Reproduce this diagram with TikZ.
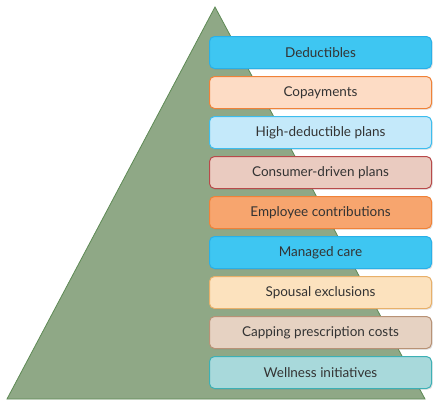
\documentclass[tikz,border=0pt]{standalone}
\usepackage{fontspec}
\setmainfont{Lato}
\usetikzlibrary{positioning,shadows}
\definecolor{pyrfill}{HTML}{8FA886}
\definecolor{pyrline}{HTML}{5E8A55}
\definecolor{cyanfill}{HTML}{3EC6F2}
\definecolor{cyanline}{HTML}{29B0E8}
\definecolor{peachfill}{HTML}{FDDCC5}
\definecolor{orangeline}{HTML}{F08238}
\definecolor{skyfill}{HTML}{C4E9FA}
\definecolor{skyline}{HTML}{3DBDEE}
\definecolor{rosefill}{HTML}{EACBC0}
\definecolor{roseline}{HTML}{B84A4A}
\definecolor{orangefill}{HTML}{F7A56E}
\definecolor{sandfill}{HTML}{FCE2BE}
\definecolor{sandline}{HTML}{E8B06A}
\definecolor{taupefill}{HTML}{E6D2C2}
\definecolor{taupeline}{HTML}{B89276}
\definecolor{tealfill}{HTML}{A8D9DB}
\definecolor{tealline}{HTML}{3DB0B5}
\definecolor{txt}{HTML}{333333}

\begin{document}
\begin{tikzpicture}[
  x=1pt, y=-1pt, node distance=7pt,
  tier/.style={draw, line width=1pt, rounded corners=5pt, minimum width=222pt, minimum height=32pt,
    font=\fontsize{13.5}{15}\selectfont, text=txt, drop shadow={shadow xshift=1.2pt, shadow yshift=-1.2pt, opacity=0.25}},
  cyantier/.style={tier, fill=cyanfill, draw=cyanline},
  peachtier/.style={tier, fill=peachfill, draw=orangeline},
  skytier/.style={tier, fill=skyfill, draw=skyline},
  rosetier/.style={tier, fill=rosefill, draw=roseline},
  orangetier/.style={tier, fill=orangefill, draw=orangeline},
  sandtier/.style={tier, fill=sandfill, draw=sandline},
  taupetier/.style={tier, fill=taupefill, draw=taupeline},
  tealtier/.style={tier, fill=tealfill, draw=tealline}
]
\useasboundingbox (0,0) rectangle (439,407);
% pyramid
\coordinate (apex) at (215,7);
\coordinate (baseL) at (7,399);
\coordinate (baseR) at (425,399);
\draw[pyrline, fill=pyrfill, line width=0.8pt] (apex) -- (baseR) -- (baseL) -- cycle;

% tiers
\node[cyantier, anchor=north west] (ded) at (209,36) {Deductibles};
\node[peachtier, below=of ded] (copay) {Copayments};
\node[skytier, below=of copay] (hdp) {High-deductible plans};
\node[rosetier, below=of hdp] (cdp) {Consumer-driven plans};
\node[orangetier, below=of cdp] (emp) {Employee contributions};
\node[cyantier, below=of emp] (mc) {Managed care};
\node[sandtier, below=of mc] (spouse) {Spousal exclusions};
\node[taupetier, below=of spouse] (cap) {Capping prescription costs};
\node[tealtier, below=of cap] (well) {Wellness initiatives};
\end{tikzpicture}
\end{document}
